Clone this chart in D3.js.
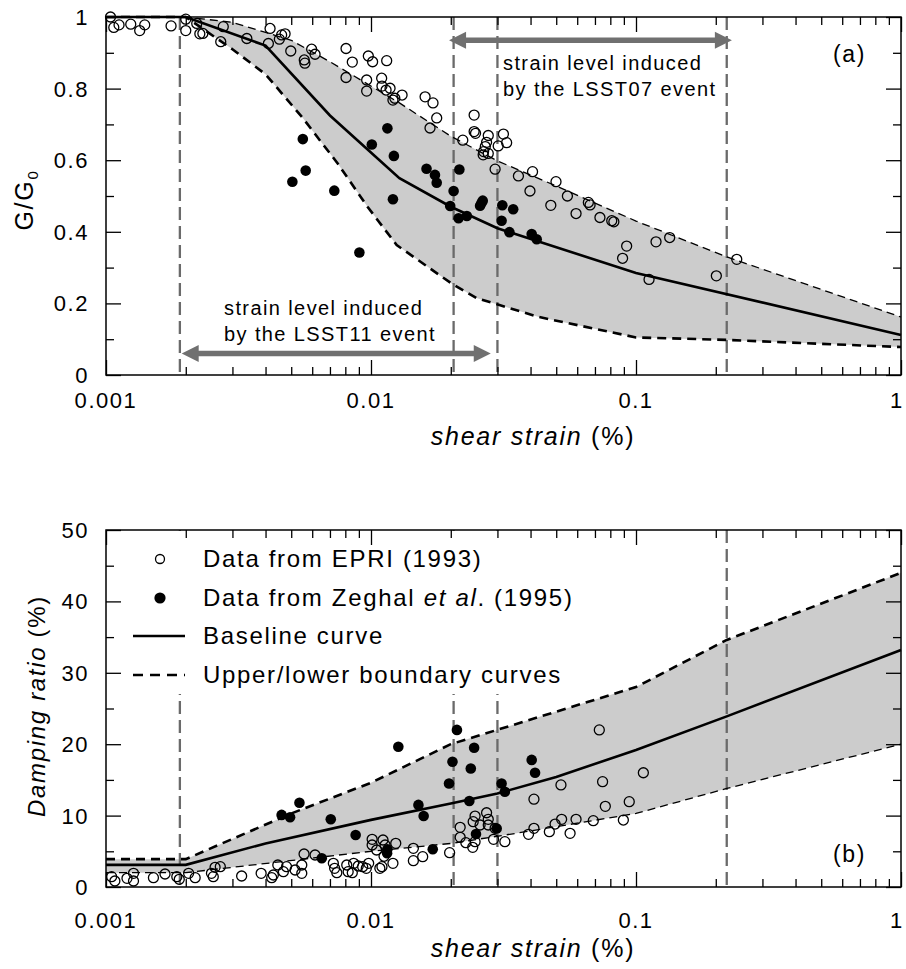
<!DOCTYPE html>
<html>
<head>
<meta charset="utf-8">
<script src="https://cdn.jsdelivr.net/npm/d3@7"></script>
<style>
body { margin: 0; background: #fff; }
text { font-family: "Liberation Sans", Arial, sans-serif; letter-spacing: 0.07em; fill: #000; }
</style>
</head>
<body>
<div id="figure"></div>
<script>
// ---- data: [shear strain (%), value] ----
// (a) G/G0
const topEpri = [[0.00104,1.0],[0.00107,0.971],[0.00112,0.978],[0.00124,0.980],[0.00134,0.962],[0.00140,0.978],
  [0.00176,0.975],[0.00200,0.994],[0.00200,0.962],[0.0022,0.982],[0.00226,0.953],[0.00232,0.954],[0.00271,0.931],
  [0.00277,0.973],[0.0034,0.940],[0.00416,0.968],[0.0041,0.926],[0.00451,0.938],[0.0046,0.950],[0.00474,0.953],
  [0.00498,0.905],[0.0056,0.880],[0.00563,0.871],[0.00597,0.910],[0.00615,0.896],[0.00805,0.912],[0.00805,0.831],
  [0.0085,0.874],[0.00977,0.891],[0.00963,0.824],[0.00963,0.793],[0.01014,0.875],[0.01146,0.878],[0.01097,0.829],
  [0.0110,0.807],[0.0114,0.796],[0.0118,0.801],[0.0121,0.768],[0.0123,0.773],[0.0131,0.782],[0.016,0.777],
  [0.01714,0.760],[0.0177,0.718],[0.0167,0.690],[0.0222,0.656],[0.0245,0.726],[0.0245,0.680],[0.0248,0.675],
  [0.0277,0.669],[0.0273,0.650],[0.0270,0.638],[0.0266,0.624],[0.0277,0.619],[0.0265,0.615],[0.0316,0.673],
  [0.0325,0.649],[0.0302,0.640],[0.0294,0.575],[0.036,0.556],[0.0407,0.568],[0.0398,0.514],[0.0477,0.474],
  [0.0499,0.540],[0.0551,0.500],[0.0594,0.451],[0.0661,0.482],[0.0671,0.475],[0.0731,0.440],[0.081,0.431],
  [0.0825,0.428],[0.0922,0.360],[0.089,0.326],[0.119,0.372],[0.134,0.384],[0.112,0.267],[0.201,0.277],[0.240,0.323]];
const topZeghal = [[0.00553,0.659],[0.00567,0.571],[0.00505,0.540],[0.00727,0.515],[0.00904,0.342],[0.01007,0.644],
  [0.01153,0.689],[0.0122,0.612],[0.0121,0.491],[0.0162,0.576],[0.01743,0.559],[0.0177,0.537],[0.02155,0.574],
  [0.0205,0.514],[0.0199,0.472],[0.0214,0.438],[0.023,0.444],[0.0264,0.487],[0.0258,0.473],[0.0261,0.480],
  [0.0313,0.474],[0.0344,0.463],[0.0311,0.431],[0.0333,0.399],[0.0404,0.394],[0.0422,0.379]];
const topBase = [[0.001,1],[0.002,1],[0.004,0.92],[0.007,0.725],[0.0128,0.55],[0.02,0.47],[0.03,0.41],[0.1,0.285],[1,0.112]];
const topUpper = [[0.001,1],[0.002,1],[0.003,0.985],[0.005,0.935],[0.007,0.875],[0.0128,0.76],[0.02,0.667],[0.03,0.598],
  [0.05,0.528],[0.1,0.43],[0.22,0.33],[1,0.162]];
const topLower = [[0.001,1],[0.002,1],[0.003,0.91],[0.004,0.84],[0.0055,0.72],[0.0075,0.59],[0.0097,0.47],[0.0125,0.363],
  [0.02,0.257],[0.025,0.215],[0.043,0.162],[0.1,0.105],[0.22,0.098],[1,0.078]];

// (b) damping ratio (%)
const botEpri = [[0.00105,1.45],[0.00108,0.84],[0.0012,1.21],[0.00127,1.91],[0.00127,0.84],[0.00151,1.31],[0.00167,1.82],
  [0.00185,1.45],[0.00189,1.08],[0.00205,1.91],[0.00217,1.31],[0.0025,1.91],[0.00258,2.75],[0.0027,2.85],[0.00254,1.45],
  [0.00325,1.54],[0.00385,1.91],[0.00422,1.31],[0.00428,1.68],[0.00445,3.08],[0.00467,2.15],[0.0048,2.85],[0.00517,2.38],
  [0.00548,1.91],[0.00548,3.08],[0.00559,4.62],[0.00615,4.48],[0.00721,3.31],[0.00729,2.61],[0.00743,2.0],[0.0081,3.08],
  [0.0082,2.15],[0.0085,2.0],[0.0086,3.31],[0.00895,2.94],[0.0093,2.85],[0.0096,2.61],[0.0098,3.31],[0.0108,2.61],
  [0.0101,6.68],[0.0101,5.88],[0.0105,5.18],[0.0111,6.58],[0.0113,5.88],[0.0121,3.31],[0.0124,6.12],[0.011,2.85],
  [0.0112,4.3],[0.01445,5.42],[0.01445,3.69],[0.01567,4.25],[0.0198,4.81],[0.0217,8.36],[0.0217,6.96],[0.0228,6.21],
  [0.0242,5.56],[0.0247,6.35],[0.0243,9.15],[0.0247,9.94],[0.0258,8.68],[0.0273,10.4],[0.0277,9.48],[0.0277,8.68],
  [0.0294,8.22],[0.029,6.68],[0.032,6.35],[0.0393,7.38],[0.0412,8.22],[0.0412,12.3],[0.0471,7.75],[0.0495,8.82],
  [0.0524,9.48],[0.0521,14.3],[0.0564,7.52],[0.0594,9.48],[0.069,9.29],[0.0727,22.0],[0.0748,14.75],[0.0766,11.3],
  [0.0896,9.38],[0.0943,11.95],[0.1066,16.0]];
const botZeghal = [[0.0046,10.1],[0.00495,9.76],[0.00537,11.8],[0.00652,4.02],[0.00705,9.48],[0.00875,7.28],[0.01153,5.28],
  [0.0115,4.72],[0.01268,19.65],[0.0151,11.5],[0.0158,9.94],[0.0171,5.28],[0.0197,14.5],[0.0203,17.55],[0.0211,22.0],
  [0.0235,12.05],[0.0238,16.6],[0.0245,19.5],[0.0249,7.42],[0.0298,8.2],[0.0311,14.5],[0.032,13.35],[0.0404,17.8],[0.0416,16.0]];
const botBase = [[0.001,3.1],[0.002,3.1],[0.004,6.1],[0.01,9.4],[0.02,11.7],[0.03,13.1],[0.05,15.4],[0.1,19.2],[0.22,23.9],[1,33.2]];
const botUpper = [[0.001,3.9],[0.002,3.9],[0.005,10.3],[0.01,14.6],[0.02,20.0],[0.1,28.0],[0.22,34.6],[1,44.0]];
const botLower = [[0.001,2.0],[0.002,2.0],[0.01,5.0],[0.02,6.1],[0.035,7.5],[0.1,10.3],[0.22,13.8],[1,20.0]];

// strain levels of the two events (vertical dashed lines)
const eventLines = [0.0019, 0.0205, 0.03, 0.22];

// ticks
const xMajor = [0.001, 0.01, 0.1, 1];
const xLabels = ["0.001", "0.01", "0.1", "1"];
const topYMajor = [0, 0.2, 0.4, 0.6, 0.8, 1];
const topYLabels = ["0", "0.2", "0.4", "0.6", "0.8", "1"];
const topYMinor = [0.1, 0.3, 0.5, 0.7, 0.9];
const botYMajor = [0, 10, 20, 30, 40, 50];
const botYLabels = ["0", "10", "20", "30", "40", "50"];
const botYMinor = [5, 15, 25, 35, 45];

const xMinor = [];
xMajor.slice(0, 3).forEach(d => { for (let k = 2; k < 10; k++) xMinor.push(d * k); });

const svg = d3.select("#figure").append("svg")
  .attr("width", 906).attr("height", 969);
svg.append("rect").attr("width", 906).attr("height", 969).attr("fill", "#fff");

const x = d3.scaleLog().domain([0.001, 1]).range([106, 901]);

function drawPanel(o) {
  const g = svg.append("g");
  const y = d3.scaleLinear().domain(o.yDomain).range([o.bottom, o.top]);
  const line = d3.line().x(d => x(d[0])).y(d => y(d[1]));

  // band between boundary curves
  g.append("path")
    .attr("d", line(o.upper.concat(o.lower.slice().reverse())) + "Z")
    .attr("fill", "#cccccc");

  g.selectAll(".ev").data(eventLines).join("line")
    .attr("x1", d => x(d)).attr("x2", d => x(d))
    .attr("y1", o.top).attr("y2", o.bottom)
    .attr("stroke", "#6a6a6a").attr("stroke-width", 2.3).attr("stroke-dasharray", "13,6");

  g.append("path").attr("d", line(o.thin)).attr("fill", "none")
    .attr("stroke", "#000").attr("stroke-width", 1.3).attr("stroke-dasharray", "8,5");
  g.append("path").attr("d", line(o.thick)).attr("fill", "none")
    .attr("stroke", "#000").attr("stroke-width", 2.6).attr("stroke-dasharray", "9,6");
  g.append("path").attr("d", line(o.base)).attr("fill", "none")
    .attr("stroke", "#000").attr("stroke-width", 2.6);

  g.selectAll(".open").data(o.open).join("circle")
    .attr("cx", d => x(d[0])).attr("cy", d => y(d[1])).attr("r", 5)
    .attr("fill", "none").attr("stroke", "#000").attr("stroke-width", 1.3);
  g.selectAll(".fill").data(o.filled).join("circle")
    .attr("cx", d => x(d[0])).attr("cy", d => y(d[1])).attr("r", 5.3)
    .attr("fill", "#000");
  return { g, y };
}

function drawAxes(g, y, o) {
  const b = o.bottom, t = o.top;
  const tickStyle = s => { s.select(".domain").remove(); s.selectAll("line").attr("stroke", "#000").attr("stroke-width", 1.3); };
  g.append("g").attr("transform", `translate(0,${b})`).call(d3.axisBottom(x).tickValues(xMajor).tickSize(-15).tickFormat("")).call(tickStyle);
  g.append("g").attr("transform", `translate(0,${b})`).call(d3.axisBottom(x).tickValues(xMinor).tickSize(-8).tickFormat("")).call(tickStyle);
  g.append("g").attr("transform", `translate(0,${t})`).call(d3.axisTop(x).tickValues(xMajor).tickSize(-15).tickFormat("")).call(tickStyle);
  g.append("g").attr("transform", `translate(0,${t})`).call(d3.axisTop(x).tickValues(xMinor).tickSize(-8).tickFormat("")).call(tickStyle);
  g.append("g").attr("transform", "translate(106,0)").call(d3.axisLeft(y).tickValues(o.yMajor).tickSize(-15).tickFormat("")).call(tickStyle);
  g.append("g").attr("transform", "translate(106,0)").call(d3.axisLeft(y).tickValues(o.yMinor).tickSize(-8).tickFormat("")).call(tickStyle);
  g.append("g").attr("transform", "translate(901,0)").call(d3.axisRight(y).tickValues(o.yMajor).tickSize(-15).tickFormat("")).call(tickStyle);
  g.append("g").attr("transform", "translate(901,0)").call(d3.axisRight(y).tickValues(o.yMinor).tickSize(-8).tickFormat("")).call(tickStyle);

  g.append("rect").attr("x", 106).attr("y", t).attr("width", 795).attr("height", b - t)
    .attr("fill", "none").attr("stroke", "#000").attr("stroke-width", 1.5);

  // the last label sits at the page edge: nudge it in so it is not clipped
  g.selectAll(".xl").data(xMajor).join("text")
    .attr("x", (d, i) => x(d) - (i === xMajor.length - 1 ? 4 : 0)).attr("y", o.xLabelY).attr("text-anchor", "middle")
    .attr("font-size", 22).text((d, i) => xLabels[i]);
  g.selectAll(".yl").data(o.yMajor).join("text")
    .attr("x", 89).attr("y", d => y(d)).attr("dy", "0.36em").attr("text-anchor", "end")
    .attr("font-size", 22).text((d, i) => o.yLabels[i]);

  const xt = g.append("text").attr("x", 533).attr("y", o.xTitleY).attr("text-anchor", "middle").attr("font-size", 25);
  xt.append("tspan").attr("font-style", "italic").text("shear strain");
  xt.append("tspan").text(" (%)");
}

function arrow(g, x1, x2, yy) {
  const h = 17, w = 8.5, c = "#707070";
  g.append("line").attr("x1", x1 + h - 2).attr("x2", x2 - h + 2).attr("y1", yy).attr("y2", yy)
    .attr("stroke", c).attr("stroke-width", 5.5);
  g.append("path").attr("d", `M${x1},${yy}L${x1 + h},${yy - w}L${x1 + h},${yy + w}Z`).attr("fill", c);
  g.append("path").attr("d", `M${x2},${yy}L${x2 - h},${yy - w}L${x2 - h},${yy + w}Z`).attr("fill", c);
}

// ---- panel (a) ----
const optA = { yDomain: [0, 1], top: 17, bottom: 375, upper: topUpper, lower: topLower,
  thin: topUpper, thick: topLower, base: topBase, open: topEpri, filled: topZeghal,
  yMajor: topYMajor, yMinor: topYMinor, yLabels: topYLabels, xLabelY: 408, xTitleY: 445 };
const pA = drawPanel(optA);

arrow(pA.g, x(0.0197), x(0.23), pA.y(0.935));
arrow(pA.g, x(0.00193), x(0.0283), pA.y(0.06));

const tA1 = pA.g.append("text").attr("font-size", 20);
tA1.append("tspan").attr("x", 503).attr("y", 70).text("strain level induced");
tA1.append("tspan").attr("x", 503).attr("y", 96).text("by the LSST07 event");
const tA2 = pA.g.append("text").attr("font-size", 20);
tA2.append("tspan").attr("x", 224).attr("y", 315).text("strain level induced");
tA2.append("tspan").attr("x", 224).attr("y", 341).text("by the LSST11 event");

drawAxes(pA.g, pA.y, optA);
pA.g.append("text").attr("x", 833).attr("y", 62).attr("font-size", 23).text("(a)");

const yA = pA.g.append("text").attr("transform", "translate(33,200) rotate(-90)")
  .attr("text-anchor", "middle").attr("font-size", 25);
yA.append("tspan").text("G/G");
yA.append("tspan").attr("font-size", 15).attr("dy", 5).text("0");

// ---- panel (b) ----
const optB = { yDomain: [0, 50], top: 530, bottom: 887, upper: botUpper, lower: botLower,
  thin: botLower, thick: botUpper, base: botBase, open: botEpri, filled: botZeghal,
  yMajor: botYMajor, yMinor: botYMinor, yLabels: botYLabels, xLabelY: 928, xTitleY: 957 };
const pB = drawPanel(optB);

// legend
pB.g.append("rect").attr("x", 107).attr("y", 531).attr("width", 459).attr("height", 163).attr("fill", "#fff");
const lg = pB.g.append("g");
lg.append("circle").attr("cx", 160).attr("cy", 559).attr("r", 4.5)
  .attr("fill", "#fff").attr("stroke", "#000").attr("stroke-width", 1.3);
lg.append("circle").attr("cx", 160).attr("cy", 598).attr("r", 5.6).attr("fill", "#000");
lg.append("line").attr("x1", 133).attr("x2", 185).attr("y1", 636).attr("y2", 636)
  .attr("stroke", "#000").attr("stroke-width", 2.6);
lg.append("line").attr("x1", 133).attr("x2", 185).attr("y1", 675).attr("y2", 675)
  .attr("stroke", "#000").attr("stroke-width", 2.6).attr("stroke-dasharray", "10,7");
lg.append("text").attr("x", 203).attr("y", 567).attr("font-size", 24).text("Data from EPRI (1993)");
const l2 = lg.append("text").attr("x", 203).attr("y", 606).attr("font-size", 24);
l2.append("tspan").text("Data from Zeghal ");
l2.append("tspan").attr("font-style", "italic").text("et al");
l2.append("tspan").text(". (1995)");
lg.append("text").attr("x", 203).attr("y", 644).attr("font-size", 24).text("Baseline curve");
lg.append("text").attr("x", 203).attr("y", 683).attr("font-size", 24).text("Upper/lower boundary curves");

drawAxes(pB.g, pB.y, optB);
pB.g.append("text").attr("x", 833).attr("y", 862).attr("font-size", 23).text("(b)");

const yB = pB.g.append("text").attr("transform", "translate(45,706) rotate(-90)")
  .attr("text-anchor", "middle").attr("font-size", 24);
yB.append("tspan").attr("font-style", "italic").text("Damping ratio");
yB.append("tspan").text(" (%)");
</script>
</body>
</html>
